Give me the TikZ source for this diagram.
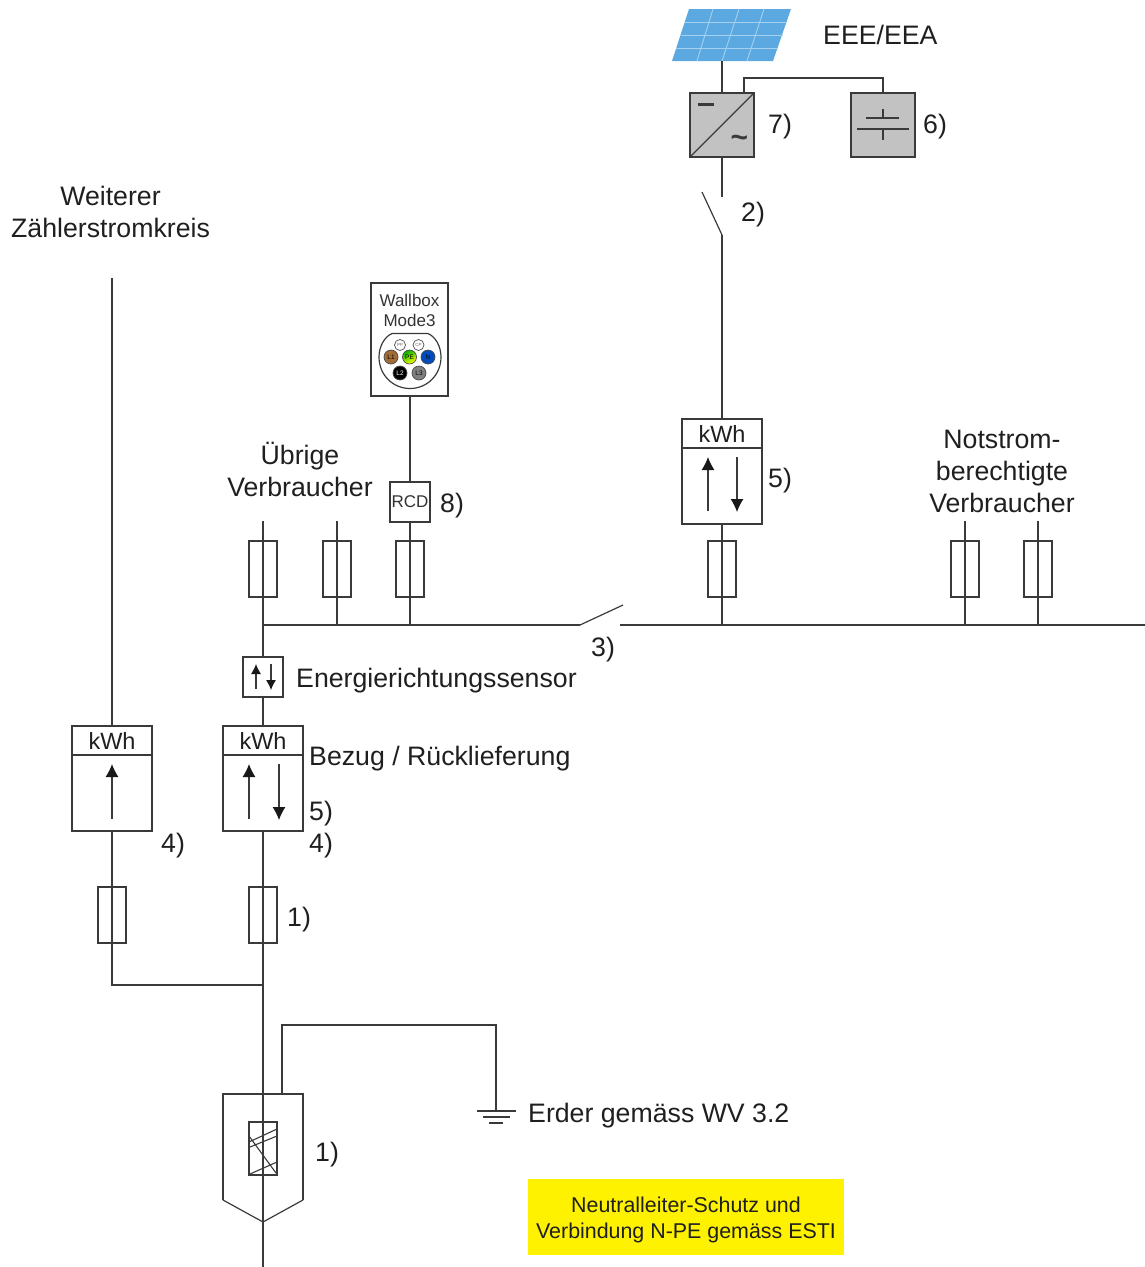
\documentclass[tikz,border=0pt]{standalone}
\usepackage{fontspec}
\setmainfont{Liberation Sans}
\definecolor{linegray}{HTML}{3A3A3A}
\definecolor{boxgray}{HTML}{C1C2C1}
\definecolor{panelblue}{HTML}{5BA9E0}
\definecolor{panelgrid}{HTML}{A5D0EE}
\definecolor{notegelb}{HTML}{FFF200}
\usetikzlibrary{arrows.meta}
\tikzset{
 wire/.style={draw=linegray,line width=1.2pt},
 fusebox/.style={draw=linegray,line width=1.2pt,minimum width=28,minimum height=56,inner sep=0pt},
 meterbox/.style={draw=linegray,line width=1.2pt,minimum width=80,minimum height=105,inner sep=0pt},
 greybox/.style={draw=linegray,fill=boxgray,line width=1.2pt,minimum width=64,minimum height=64,inner sep=0pt},
 txt/.style={anchor=west,inner sep=0pt,yshift=-2.5pt,text=black!88,font=\fontsize{26.7}{32}\selectfont},
 meterlabel/.style={inner sep=0pt,text=black!88,font=\fontsize{23.5}{28}\selectfont},
 pin/.style={circle,draw=black!70,line width=0.7pt,minimum size=14,inner sep=0pt,font=\fontsize{6.5}{7}\selectfont},
 flow/.style={line width=1.1pt,draw=linegray,-{Latex[length=13pt,width=13pt,color=black!90]}},
 smallflow/.style={line width=1.1pt,draw=linegray,-{Latex[length=10pt,width=10pt,color=black!90]}},
}
\begin{document}
\begin{tikzpicture}[x=1pt,y=-1pt]
 \useasboundingbox (0,0) rectangle (1145,1267);

 %Panel
 \fill[panelblue] (672,61) -- (689,9) -- (791,9) -- (773,61) -- cycle;
 \draw[panelgrid,line width=0.9pt] (684.8,22) -- (786.8,22) (680.5,35) -- (782.5,35) (676.2,48) -- (778.2,48);
 \draw[panelgrid,line width=0.9pt] (697,61) -- (713,9) (722,61) -- (739,9) (747,61) -- (764,9);
 \coordinate (panel) at (722,61);
 \node[txt] (eee) at (823,32) {EEE/EEA};

 %Inverter and battery
 \node[greybox] (inverter) at (722,125) {};
 \node[greybox] (battery) at (883,125) {};
 \draw[wire] (inverter.south west) -- (inverter.north east);
 \draw[linegray,line width=2.2pt] (698,104.5) -- (714,104.5);
 \node[inner sep=0pt,font=\bfseries\fontsize{30}{30}\selectfont,text=linegray] (tilde) at (739.5,141) {\char"7E};
 \draw[linegray,line width=2.6pt] (866,118) -- (899,118);
 \draw[wire] (857,129) -- (909,129);
 \draw[wire] (883,109) -- (883,118) (883,129) -- (883,140);
 \coordinate (invertertap) at (744,93);
 \draw[wire] (invertertap) -- (744,78) -- (883,78) -- (battery.north);
 \draw[wire] (panel) -- (inverter.north);
 \node[txt] (l7) at (768,124) {7)};
 \node[txt] (l6) at (923,124) {6)};

 %Switch 2
 \coordinate (swtop) at (722,197);
 \coordinate (swbot) at (722,235);
 \draw[wire] (inverter.south) -- (swtop);
 \draw[wire] (702,192) -- (swbot);
 \node[txt] (l2) at (741,212) {2)};

 %Meter PV
 \node[meterbox] (meterpv) at (722,471.5) {};
 \draw[wire] (682,448) -- (762,448);
 \node[meterlabel] (kwhpv) at (722,434) {kWh};
 \draw[flow] (708,511) -- (708,457);
 \draw[flow] (737,457) -- (737,512);
 \draw[wire] (swbot) -- (meterpv.north);
 \node[txt] (l5a) at (768,478) {5)};

 %Bus
 \coordinate (busa) at (263,625);
 \coordinate (busb) at (337,625);
 \coordinate (busc) at (410,625);
 \coordinate (busd) at (722,625);
 \coordinate (buse) at (965,625);
 \coordinate (busf) at (1038,625);
 \coordinate (swleft) at (580,625);
 \coordinate (swright) at (620,625);
 \coordinate (busend) at (1145,625);
 \draw[wire] (busa) -- (swleft);
 \draw[wire] (swleft) -- (623,605);
 \draw[wire] (swright) -- (busend);
 \node[txt] (l3) at (591,647) {3)};

 %Fuses
 \node[fusebox] (fusea) at (263,569) {};
 \node[fusebox,line width=1.7pt] (fuseb) at (337,569) {};
 \node[fusebox] (fusec) at (410,569) {};
 \node[fusebox] (fused) at (722,569) {};
 \node[fusebox] (fusee) at (965,569) {};
 \node[fusebox] (fusef) at (1038,569) {};
 \draw[wire] (263,521) -- (busa);
 \draw[wire] (337,521) -- (busb);
 \draw[wire] (965,521) -- (buse);
 \draw[wire] (1038,521) -- (busf);
 \draw[wire] (meterpv.south) -- (busd);

 %Wallbox
 \node[draw=linegray,line width=1.2pt,minimum width=77,minimum height=113,inner sep=0pt] (wallbox) at (409.5,339.5) {};
 \node[inner sep=0pt,text=black!80,font=\fontsize{17}{20}\selectfont,align=center] (walltxt) at (409.5,310) {Wallbox\\Mode3};
 \draw[linegray,line width=1.2pt] (392,333.5) -- (428,333.5) .. controls (436,337) and (441,347) .. (441,357) .. controls (441,375) and (427,388.5) .. (410,388.5)
  .. controls (393,388.5) and (379,375) .. (379,357) .. controls (379,347) and (384,337) .. (392,333.5) -- cycle;
 \node[pin,minimum size=11,text=black!60,font=\fontsize{4.5}{5}\selectfont] (pp) at (400,345) {PP};
 \node[pin,minimum size=11,text=black!60,font=\fontsize{4.5}{5}\selectfont] (cp) at (418.5,345) {CP};
 \node[pin,fill=brown!85!black,text=black] (lone) at (391,357) {L1};
 \node[pin,shade,left color=green!70!black,right color=yellow,shading angle=30,text=black] (pe) at (409.5,357) {PE};
 \node[pin,fill=blue!60!cyan!75!black,text=black] (nn) at (428,357) {N};
 \node[pin,fill=black,text=white] (ltwo) at (400,373) {L2};
 \node[pin,fill=gray,text=black] (lthree) at (419,373) {L3};
 \node[draw=linegray,line width=1.2pt,minimum width=40,minimum height=40,inner sep=0pt,text=black!80,font=\fontsize{17}{20}\selectfont] (rcd) at (410,502) {RCD};
 \draw[wire] (wallbox.south -| rcd.north) -- (rcd.north);
 \draw[wire] (rcd.south) -- (busc);
 \node[txt] (l8) at (440,503) {8)};

 %Labels
 \node[txt,anchor=center,align=center] (ubrige) at (300,466.5) {Übrige\\Verbraucher};
 \node[txt,anchor=center,align=center] (notstrom) at (1002,468.5) {Notstrom-\\berechtigte\\Verbraucher};
 \node[txt,anchor=center,align=center] (weiterer) at (110.5,209.5) {Weiterer\\Zählerstromkreis};

 %Sensor
 \node[draw=linegray,line width=1.2pt,minimum width=40,minimum height=40,inner sep=0pt] (sensor) at (263,677) {};
 \draw[smallflow] (256,689) -- (256,664);
 \draw[smallflow] (271,664) -- (271,690);
 \draw[wire] (busa) -- (sensor.north);
 \node[txt] (sensortxt) at (296,678) {Energierichtungssensor};

 %Main meter
 \node[meterbox] (metermain) at (263,778.5) {};
 \draw[wire] (223,755) -- (303,755);
 \node[meterlabel] (kwhmain) at (263,741) {kWh};
 \draw[flow] (249,819) -- (249,764);
 \draw[flow] (279,764) -- (279,820);
 \draw[wire] (sensor.south) -- (metermain.north);
 \node[txt] (bezug) at (309,756) {Bezug / Rücklieferung};
 \node[txt] (l5b) at (309,811) {5)};
 \node[txt] (l4b) at (309,843) {4)};

 %Second meter
 \node[meterbox] (metersec) at (112,778.5) {};
 \draw[wire] (72,755) -- (152,755);
 \node[meterlabel] (kwhsec) at (112,741) {kWh};
 \draw[flow] (112,819) -- (112,764);
 \coordinate (sectop) at (112,278);
 \draw[wire] (sectop) -- (metersec.north);
 \node[txt] (l4a) at (161,843) {4)};

 %Feed
 \coordinate (feedjoin) at (263,985);
 \coordinate (feedend) at (263,1267);
 \node[fusebox] (fuseh) at (112,915) {};
 \node[fusebox] (fusei) at (263,915) {};
 \draw[wire] (metersec.south) -- (112,985) -- (feedjoin);
 \draw[wire] (metermain.south) -- (feedend);
 \node[txt] (l1a) at (287,917) {1)};

 %Connection box
 \draw[wire] (223,1200) -- (223,1094) -- (303,1094) -- (303,1200);
 \draw[wire] (303,1200) -- (263,1222) -- (223,1200);
 \node[draw=linegray,line width=1.2pt,minimum width=28,minimum height=53,inner sep=0pt] (fusek) at (263,1148.5) {};
 \draw[wire,line width=1.1pt] (249,1142) -- (277,1129) (250,1147) -- (277,1136) (249,1136) -- (276,1173) (250,1174) -- (277,1162);
 \node[txt] (l1b) at (315,1152) {1)};

 %Earth
 \coordinate (earthtap) at (282,1094);
 \coordinate (earth) at (496,1111);
 \draw[wire] (earthtap) -- (282,1025) -- (496,1025) -- (earth);
 \draw[wire] (477,1111) -- (516,1111) (483,1117) -- (510,1117) (489,1123) -- (503,1123);
 \node[txt] (erder) at (528,1113) {Erder gemäss WV 3.2};

 %Note
 \node[fill=notegelb,minimum width=316,minimum height=76,inner sep=0pt] (note) at (686,1217) {};
 \node[inner sep=0pt,align=center,text=black!88,font=\fontsize{21.4}{26}\selectfont] (notetxt) at (686,1220) {Neutralleiter-Schutz und\\Verbindung N-PE gemäss ESTI};

\end{tikzpicture}
\end{document}
